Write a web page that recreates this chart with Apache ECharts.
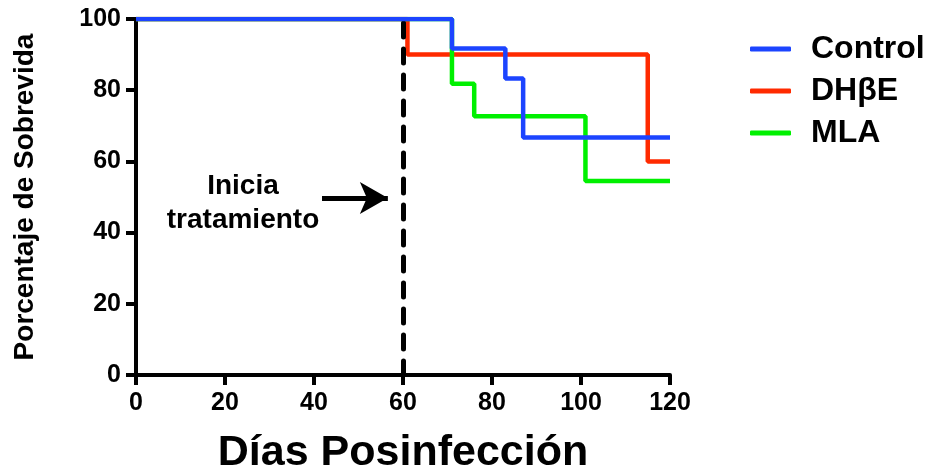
<!DOCTYPE html>
<html>
<head>
<meta charset="utf-8">
<script src="https://cdn.jsdelivr.net/npm/echarts@6/dist/echarts.min.js"></script>
<style>
  html, body { margin: 0; padding: 0; background: #fff; }
  #chart { width: 936px; height: 476px; }
</style>
</head>
<body>
<div id="chart"></div>
<script>
// datos (Kaplan-Meier)
const seriesNames = ['Control', 'DHβE', 'MLA']
const controlDays = [0, 71, 83, 87, 120]
const controlPct = [100, 91.7, 83.3, 66.7, 66.7]
const dhbeDays = [0, 61, 115, 120]
const dhbePct = [100, 90, 60, 60]
const mlaDays = [0, 71, 76, 101, 120]
const mlaPct = [100, 81.8, 72.7, 54.5, 54.5]
const treatmentDay = 60
const arrowFrom = [41.8, 49.7]
const arrowTo = [56.6, 49.7]

const FONT = 'Liberation Sans, Arial, sans-serif'

function pairs (xs, ys) {
  return xs.map(function (x, i) { return [x, ys[i]] })
}

let chart = echarts.init(document.getElementById('chart'))
let options = {
  animation: false,
  grid: {
    left: 136,
    right: 266,
    top: 19,
    bottom: 101,
    outerBoundsMode: 'none'
  },
  legend: {
    data: seriesNames,
    orient: 'vertical',
    left: 745,
    top: 28,
    icon: 'roundRect',
    itemWidth: 41,
    itemHeight: 5,
    itemGap: 10,
    textStyle: {
      fontFamily: FONT,
      fontWeight: 'bold',
      fontSize: 32,
      lineHeight: 32,
      color: '#000',
      padding: [0, 0, 0, 15]
    }
  },
  xAxis: {
    type: 'value',
    min: 0,
    max: 120,
    interval: 20,
    name: 'Días Posinfección',
    nameLocation: 'middle',
    nameGap: 57,
    nameTextStyle: {
      fontFamily: FONT,
      fontWeight: 'bold',
      fontSize: 43,
      color: '#000'
    },
    axisLine: { // linea del eje
      lineStyle: { color: '#000', width: 4 }
    },
    axisTick: {
      length: 10,
      lineStyle: { color: '#000', width: 4 }
    },
    axisLabel: {
      margin: 16,
      fontFamily: FONT,
      fontWeight: 'bold',
      fontSize: 25,
      color: '#000'
    },
    splitLine: { show: false }
  },
  yAxis: {
    type: 'value',
    min: 0,
    max: 100,
    interval: 20,
    name: 'Porcentaje de Sobrevida',
    nameLocation: 'middle',
    nameRotate: 90,
    nameGap: 97,
    nameTextStyle: {
      fontFamily: FONT,
      fontWeight: 'bold',
      fontSize: 28,
      color: '#000'
    },
    axisLine: {
      show: true,
      lineStyle: { color: '#000', width: 4 }
    },
    axisTick: {
      show: true,
      length: 10,
      lineStyle: { color: '#000', width: 4 }
    },
    axisLabel: {
      margin: 15,
      fontFamily: FONT,
      fontWeight: 'bold',
      fontSize: 25,
      color: '#000'
    },
    splitLine: { show: false }
  },
  graphic: [{
    type: 'text',
    style: {
      text: 'Inicia\ntratamiento',
      x: 243,
      y: 203,
      align: 'center',
      verticalAlign: 'middle',
      lineHeight: 34,
      font: 'bold 28px ' + FONT,
      fill: '#000'
    }
  }],
  series: [{
    name: 'DHβE',
    type: 'line',
    step: 'end',
    symbol: 'none',
    z: 3,
    color: '#ff2a00',
    lineStyle: { width: 4.5 },
    data: pairs(dhbeDays, dhbePct),
    markLine: {
      silent: true,
      symbol: 'none',
      label: { show: false },
      lineStyle: {
        color: '#000',
        width: 5,
        type: [14, 12],
        cap: 'round'
      },
      data: [{ xAxis: treatmentDay }]
    }
  }, {
    name: 'MLA',
    type: 'line',
    step: 'end',
    symbol: 'none',
    z: 4,
    color: '#00f000',
    lineStyle: { width: 4.5 },
    data: pairs(mlaDays, mlaPct),
    markLine: {
      silent: true,
      symbol: ['none', 'arrow'],
      symbolSize: [24, 28],
      label: { show: false },
      lineStyle: { color: '#000', width: 5, type: 'solid' },
      data: [[{ coord: arrowFrom }, { coord: arrowTo }]]
    }
  }, {
    name: 'Control',
    type: 'line',
    step: 'end',
    symbol: 'none',
    z: 5,
    color: '#1c44ff',
    lineStyle: { width: 4.5 },
    data: pairs(controlDays, controlPct)
  }]
}
chart.setOption(options)
</script>
</body>
</html>
